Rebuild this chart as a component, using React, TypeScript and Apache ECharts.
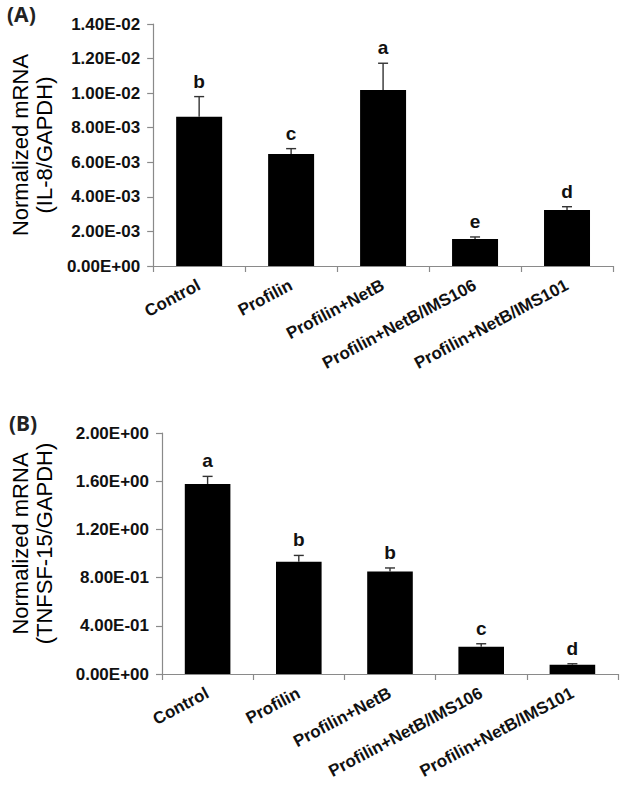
import React, { useEffect, useRef } from "react";
import * as echarts from "echarts";

const categories = ["Control", "Profilin", "Profilin+NetB", "Profilin+NetB/IMS106", "Profilin+NetB/IMS101"];

const il8Mean = [0.00864, 0.00648, 0.01018, 0.00156, 0.00324];
const il8Err = [0.00116, 0.00031, 0.00155, 0.00012, 0.00019];
const il8Letters = ["b", "c", "a", "e", "d"];

const tnfMean = [1.577, 0.932, 0.851, 0.227, 0.077];
const tnfErr = [0.063, 0.052, 0.029, 0.024, 0.008];
const tnfLetters = ["a", "b", "b", "c", "d"];

const FONT = "'Liberation Sans', Arial, sans-serif";
const LABEL_ROT = 28;

function sci(v: number): string {
  const [m, e] = v.toExponential(2).split("e");
  const n = parseInt(e, 10);
  return m + "E" + (n < 0 ? "-" : "+") + String(Math.abs(n)).padStart(2, "0");
}

function makeErrRender(letters: string[]) {
  return function (params: any, api: any) {
    const idx = api.value(0);
    const mean = api.value(1);
    const err = api.value(2);
    const letter = letters[params.dataIndex] || "";
    const base = api.coord([idx, mean]);
    const top = api.coord([idx, mean + err]);
    const cap = 5;
    return {
      type: "group",
      children: [
        {
          type: "line",
          shape: { x1: base[0], y1: base[1], x2: top[0], y2: top[1] },
          style: { stroke: "#333", lineWidth: 1.4 },
        },
        {
          type: "line",
          shape: { x1: top[0] - cap, y1: top[1], x2: top[0] + cap, y2: top[1] },
          style: { stroke: "#333", lineWidth: 1.4 },
        },
        {
          type: "text",
          x: top[0],
          y: top[1] - 6,
          style: {
            text: letter,
            fill: "#111",
            font: "bold 19px " + FONT,
            textAlign: "center",
            textVerticalAlign: "bottom",
          },
        },
      ],
    };
  };
}

export default function App() {
  const ref = useRef<HTMLDivElement>(null);
  useEffect(() => {
    if (!ref.current) return;
    const chart = echarts.init(ref.current, undefined, { renderer: "svg" });

    const axisLineStyle = { color: "#8a8a8a", width: 1.2 };
    const yLabel = {
      formatter: (v: number) => sci(v),
      fontFamily: FONT,
      fontWeight: "bold",
      fontSize: 17,
      color: "#111",
      margin: 13,
    };
    const xAxisCommon = {
      type: "category",
      data: categories,
      axisLine: { lineStyle: axisLineStyle },
      axisTick: { show: true, length: 6, lineStyle: axisLineStyle },
      axisLabel: {
        rotate: LABEL_ROT,
        interval: 0,
        fontFamily: FONT,
        fontWeight: "bold",
        fontSize: 17,
        color: "#111",
        margin: 18,
      },
    };
    const nameStyle = {
      fontFamily: FONT,
      fontSize: 22,
      lineHeight: 24,
      color: "#000",
    };
    const yAxisCommon = {
      type: "value",
      min: 0,
      nameLocation: "middle",
      nameRotate: 90,
      axisLine: { show: true, lineStyle: axisLineStyle },
      axisTick: { show: true, length: 6, lineStyle: axisLineStyle },
      splitLine: { show: false },
      axisLabel: yLabel,
    };

    chart.setOption({
      animation: false,
      backgroundColor: "#fff",
      title: [
        {
          text: "(A)",
          left: 2,
          top: -2,
          textStyle: { fontFamily: "'Noto Sans', sans-serif", fontWeight: "bold", fontSize: 21, color: "#222" },
        },
        {
          text: "(B)",
          left: 4,
          top: 407,
          textStyle: { fontFamily: "'Noto Sans', sans-serif", fontWeight: "bold", fontSize: 21, color: "#222" },
        },
      ],
      grid: [
        { left: 153, top: 24, width: 460, height: 242 },
        { left: 157, top: 433, width: 461, height: 241 },
      ],
      xAxis: [
        { ...xAxisCommon, gridIndex: 0 },
        { ...xAxisCommon, gridIndex: 1 },
      ],
      yAxis: [
        {
          ...yAxisCommon,
          gridIndex: 0,
          max: 0.014,
          interval: 0.002,
          name: "Normalized mRNA\n(IL-8/GAPDH)",
          nameGap: 96,
          nameTextStyle: nameStyle,
        },
        {
          ...yAxisCommon,
          gridIndex: 1,
          max: 2,
          interval: 0.4,
          name: "Normalized mRNA\n(TNFSF-15/GAPDH)",
          nameGap: 106,
          nameTextStyle: { ...nameStyle, padding: [0, 0, 0, 20] },
        },
      ],
      series: [
        {
          type: "bar",
          xAxisIndex: 0,
          yAxisIndex: 0,
          data: il8Mean,
          barWidth: "50%",
          itemStyle: { color: "#000" },
        },
        {
          type: "custom",
          xAxisIndex: 0,
          yAxisIndex: 0,
          renderItem: makeErrRender(il8Letters),
          encode: { x: 0, y: 1 },
          data: il8Mean.map((m, i) => [i, m, il8Err[i]]),
          z: 5,
        },
        {
          type: "bar",
          xAxisIndex: 1,
          yAxisIndex: 1,
          data: tnfMean,
          barWidth: "50%",
          itemStyle: { color: "#000" },
        },
        {
          type: "custom",
          xAxisIndex: 1,
          yAxisIndex: 1,
          renderItem: makeErrRender(tnfLetters),
          encode: { x: 0, y: 1 },
          data: tnfMean.map((m, i) => [i, m, tnfErr[i]]),
          z: 5,
        },
      ],
    });

    return () => chart.dispose();
  }, []);

  return (
    <div
      ref={ref}
      style={{ position: "absolute", left: 0, top: 0, width: 622, height: 792 }}
    />
  );
}
